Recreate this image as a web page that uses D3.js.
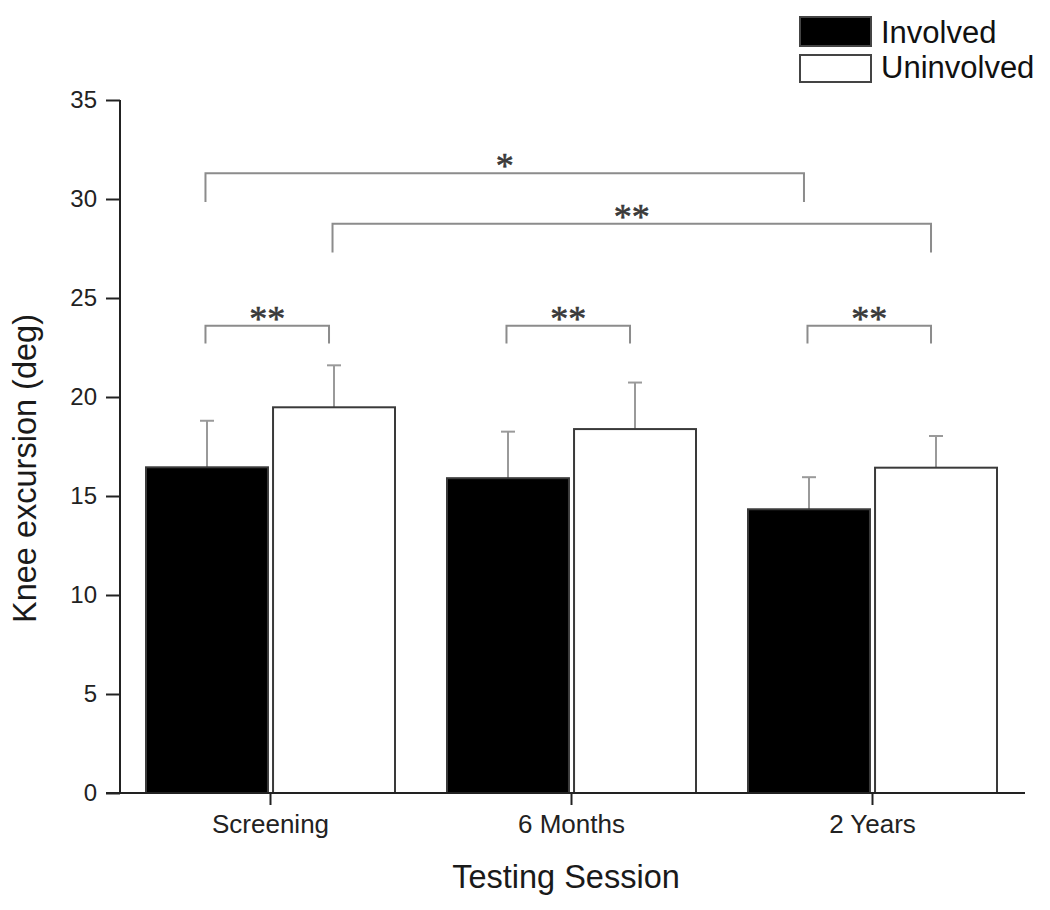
<!DOCTYPE html>
<html>
<head>
<meta charset="utf-8">
<script src="https://cdn.jsdelivr.net/npm/d3@7"></script>
<style>
  html, body { margin: 0; padding: 0; background: #fff; }
  svg { display: block; font-family: "Liberation Sans", Arial, sans-serif; }
</style>
</head>
<body>
<svg id="chart" width="1050" height="910"></svg>
<script>
// ---- data ----
const categories = ["Screening", "6 Months", "2 Years"];
const seriesNames = ["Involved", "Uninvolved"];
const involvedMean = [16.45, 15.9, 14.33];
const involvedErr = [2.35, 2.35, 1.62];
const uninvolvedMean = [19.48, 18.38, 16.43];
const uninvolvedErr = [2.12, 2.35, 1.6];
const yTicks = [0, 5, 10, 15, 20, 25, 30, 35];
const yLabel = "Knee excursion (deg)";
const xLabel = "Testing Session";
// significance brackets: [category, series] endpoints, bar level and leg level (data units)
const brackets = [
  { from: ["Screening", "Involved"], to: ["2 Years", "Involved"], level: 31.3, leg: 29.85, label: "*" },
  { from: ["Screening", "Uninvolved"], to: ["2 Years", "Uninvolved"], level: 28.75, leg: 27.3, label: "**" },
  { from: ["Screening", "Involved"], to: ["Screening", "Uninvolved"], level: 23.6, leg: 22.7, label: "**" },
  { from: ["6 Months", "Involved"], to: ["6 Months", "Uninvolved"], level: 23.6, leg: 22.7, label: "**" },
  { from: ["2 Years", "Involved"], to: ["2 Years", "Uninvolved"], level: 23.6, leg: 22.7, label: "**" }
];

const table = categories.map((c, i) => ({
  category: c,
  values: [
    { series: "Involved", mean: involvedMean[i], err: involvedErr[i] },
    { series: "Uninvolved", mean: uninvolvedMean[i], err: uninvolvedErr[i] }
  ]
}));

// ---- layout ----
const svg = d3.select("#chart");
const y = d3.scaleLinear().domain([0, 35]).range([793, 100]);
const x0 = d3.scaleBand().domain(categories).range([120, 1023]).padding(0);
const x1 = d3.scaleBand().domain(seriesNames).range([26, 275]).paddingInner(0.04);
const fillColor = d3.scaleOrdinal().domain(seriesNames).range(["#000000", "#ffffff"]);

const barCenter = (cat, ser) => x0(cat) + x1(ser) + x1.bandwidth() / 2;

// bars
const groups = svg.append("g").selectAll("g").data(table).join("g")
  .attr("transform", d => `translate(${x0(d.category)},0)`);

groups.selectAll("line.err").data(d => d.values).join("line")
  .attr("class", "err")
  .attr("x1", d => x1(d.series) + x1.bandwidth() / 2)
  .attr("x2", d => x1(d.series) + x1.bandwidth() / 2)
  .attr("y1", d => y(d.mean))
  .attr("y2", d => y(d.mean + d.err))
  .attr("stroke", "#9a9a9a").attr("stroke-width", 2);
groups.selectAll("line.cap").data(d => d.values).join("line")
  .attr("class", "cap")
  .attr("x1", d => x1(d.series) + x1.bandwidth() / 2 - 7)
  .attr("x2", d => x1(d.series) + x1.bandwidth() / 2 + 7)
  .attr("y1", d => y(d.mean + d.err))
  .attr("y2", d => y(d.mean + d.err))
  .attr("stroke", "#9a9a9a").attr("stroke-width", 2);

groups.selectAll("rect").data(d => d.values).join("rect")
  .attr("x", d => x1(d.series))
  .attr("y", d => y(d.mean))
  .attr("width", x1.bandwidth())
  .attr("height", d => y(0) - y(d.mean))
  .attr("fill", d => fillColor(d.series))
  .attr("stroke", "#3a3a3a").attr("stroke-width", 2);

// y axis
const yAxis = svg.append("g").attr("transform", "translate(120,0)")
  .call(d3.axisLeft(y).tickValues(yTicks).tickSize(14).tickPadding(9));
yAxis.select(".domain").attr("stroke", "#222").attr("stroke-width", 2)
  .attr("d", `M0,${y(0)}V${y(35)}`);
yAxis.selectAll(".tick line").attr("stroke", "#222").attr("stroke-width", 2);
yAxis.selectAll(".tick text").attr("font-size", 24).attr("fill", "#222")
  .attr("font-family", "Liberation Sans, Arial, sans-serif");

// x axis
const xAxis = svg.append("g").attr("transform", `translate(0,${y(0)})`)
  .call(d3.axisBottom(x0).tickSize(12).tickPadding(10));
xAxis.select(".domain").attr("stroke", "#222").attr("stroke-width", 2)
  .attr("d", "M106,0H1025");
xAxis.selectAll(".tick line").attr("stroke", "#222").attr("stroke-width", 2);
xAxis.selectAll(".tick text").attr("font-size", 26).attr("fill", "#222")
  .attr("font-family", "Liberation Sans, Arial, sans-serif");

// axis titles
svg.append("text")
  .attr("transform", `translate(36,${(y(0) + y(35)) / 2 + 22}) rotate(-90)`)
  .attr("text-anchor", "middle").attr("font-size", 32.5).attr("fill", "#1a1a1a")
  .text(yLabel);
svg.append("text")
  .attr("x", 566).attr("y", 888)
  .attr("text-anchor", "middle").attr("font-size", 32.5).attr("fill", "#1a1a1a")
  .text(xLabel);

// significance brackets
const bg = svg.append("g");
brackets.forEach(b => {
  const xa = barCenter(b.from[0], b.from[1]) - 1.5;
  const xb = barCenter(b.to[0], b.to[1]) - 5;
  bg.append("path")
    .attr("d", `M${xa},${y(b.leg)}V${y(b.level)}H${xb}V${y(b.leg)}`)
    .attr("fill", "none").attr("stroke", "#8c8c8c").attr("stroke-width", 2);
  bg.append("text")
    .attr("x", (xa + xb) / 2).attr("y", y(b.level) + 5)
    .attr("text-anchor", "middle")
    .attr("font-family", "Liberation Serif, Times New Roman, serif")
    .attr("font-size", 36).attr("fill", "#3a3a3a")
    .attr("stroke", "#3a3a3a").attr("stroke-width", 0.6)
    .text(b.label);
});

// legend
const legend = svg.append("g");
const legRows = [
  { name: seriesNames[0], y: 17, h: 29, base: 43 },
  { name: seriesNames[1], y: 55, h: 27, base: 78 }
];
legRows.forEach(r => {
  legend.append("rect").attr("x", 800).attr("y", r.y).attr("width", 71).attr("height", r.h)
    .attr("fill", fillColor(r.name)).attr("stroke", "#444").attr("stroke-width", 2);
  legend.append("text").attr("x", 881).attr("y", r.base)
    .attr("font-size", 31).attr("fill", "#111").text(r.name);
});
</script>
</body>
</html>
